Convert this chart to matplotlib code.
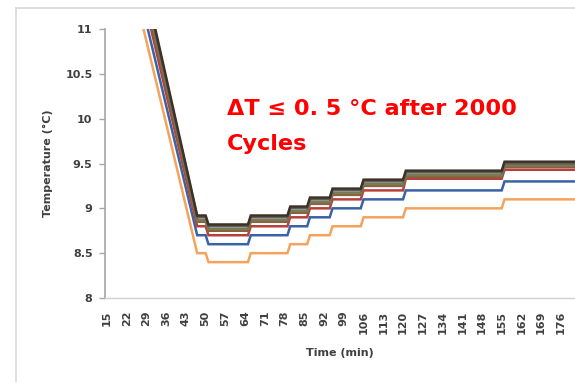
import matplotlib.pyplot as plt
from matplotlib.lines import Line2D

# Данные: опорные точки по времени (мин) и температуры (°C) для каждой кривой
time_min = [15, 47, 50, 51, 65, 66, 79, 80, 86, 87, 94, 95, 105, 106, 120, 121, 155, 156, 181]

temp_orange = [12.7, 8.5, 8.5, 8.4, 8.4, 8.5, 8.5, 8.6, 8.6, 8.7, 8.7, 8.8, 8.8, 8.9, 8.9, 9.0, 9.0, 9.1, 9.1]
temp_blue = [12.9, 8.7, 8.7, 8.6, 8.6, 8.7, 8.7, 8.8, 8.8, 8.9, 8.9, 9.0, 9.0, 9.1, 9.1, 9.2, 9.2, 9.3, 9.3]
temp_red = [13.1, 8.8, 8.8, 8.7, 8.7, 8.8, 8.8, 8.9, 8.9, 9.0, 9.0, 9.1, 9.1, 9.2, 9.2, 9.33, 9.33, 9.43, 9.43]
temp_brown = [13.2, 8.85, 8.85, 8.75, 8.75, 8.85, 8.85, 8.95, 8.95, 9.05, 9.05, 9.15, 9.15, 9.25, 9.25, 9.35, 9.35, 9.46, 9.46]
temp_olive = [13.3, 8.87, 8.87, 8.77, 8.77, 8.87, 8.87, 8.97, 8.97, 9.07, 9.07, 9.17, 9.17, 9.27, 9.27, 9.37, 9.37, 9.48, 9.48]
temp_gray = [13.35, 8.9, 8.9, 8.8, 8.8, 8.9, 8.9, 9.0, 9.0, 9.1, 9.1, 9.2, 9.2, 9.3, 9.3, 9.4, 9.4, 9.5, 9.5]
temp_dark = [13.4, 8.92, 8.92, 8.82, 8.82, 8.92, 8.92, 9.02, 9.02, 9.12, 9.12, 9.22, 9.22, 9.32, 9.32, 9.42, 9.42, 9.52, 9.52]

series = [
    (temp_orange, "#f4a35c"),
    (temp_blue, "#3a62a6"),
    (temp_red, "#b8403c"),
    (temp_brown, "#8a6040"),
    (temp_olive, "#7b7b52"),
    (temp_gray, "#5e5e5e"),
    (temp_dark, "#3e3226"),
]

y_ticks = [8, 8.5, 9, 9.5, 10, 10.5, 11]
x_ticks = list(range(15, 177, 7))

W, H = 575, 382
fig = plt.figure(figsize=(W / 100, H / 100), dpi=100)
ax = fig.add_axes([105 / W, 1 - 298 / H, 1 - 105 / W, (298 - 29) / H])

for vals, col in series:
    ax.plot(time_min, vals, color=col, lw=1.8, solid_joinstyle="miter")

ax.set_xlim(14.3, 181)
ax.set_ylim(8, 11)

lbl = dict(fontsize=8, fontweight="bold", color="#404040", family="DejaVu Sans")
ax.set_yticks(y_ticks)
ax.set_yticklabels([f"{v:g}" for v in y_ticks], **lbl)
ax.set_xticks(x_ticks)
ax.set_xticklabels([str(v) for v in x_ticks], rotation=90, **lbl)
ax.tick_params(axis="y", length=4, width=1, color="#a6a6a6", pad=5)
ax.tick_params(axis="x", length=0, pad=9)

for s in ["top", "right"]:
    ax.spines[s].set_visible(False)
ax.spines["left"].set_color("#a6a6a6")
ax.spines["left"].set_linewidth(1.2)
ax.spines["bottom"].set_color("#d0d0d0")
ax.spines["bottom"].set_linewidth(1)

ax.set_ylabel("Temperature (°C)", labelpad=9, **lbl)
ax.set_xlabel("Time (min)", labelpad=10, **lbl)

# Красная подпись
fig.text(227 / W, 1 - 115 / H, "ΔT ≤ 0. 5 °C after 2000", color="#ff0000",
         fontsize=16.1, fontweight="bold", family="DejaVu Sans",
         ha="left", va="baseline")
fig.text(227 / W, 1 - 150 / H, "Cycles", color="#ff0000",
         fontsize=16.1, fontweight="bold", family="DejaVu Sans",
         ha="left", va="baseline")

# Рамка области диаграммы
fig.add_artist(Line2D([16 / W, 16 / W], [0, 1 - 8 / H], color="#d9d9d9", lw=1.2))
fig.add_artist(Line2D([16 / W, 1], [1 - 8 / H, 1 - 8 / H], color="#d9d9d9", lw=1.2))

fig.savefig("out.png", dpi=100)
